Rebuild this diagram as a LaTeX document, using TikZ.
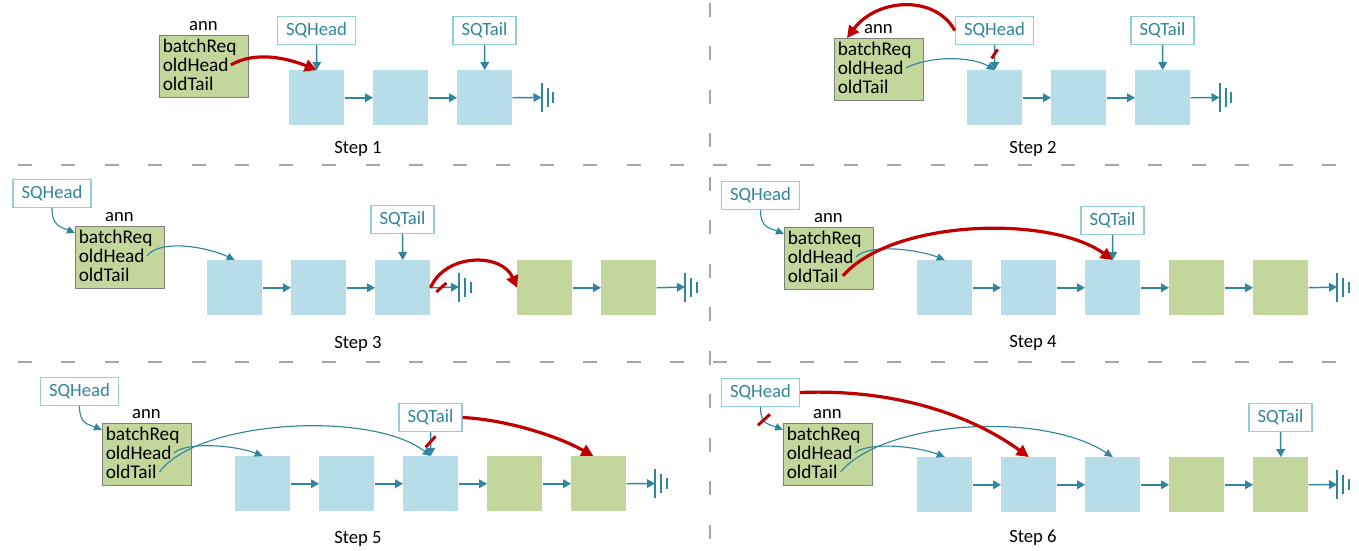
\documentclass[tikz,border=0pt]{standalone}
\usepackage{fontspec}
\setmainfont{Carlito}
\usetikzlibrary{arrows.meta,calc}

\definecolor{qblue}{HTML}{B7DDE8}
\definecolor{qgreen}{HTML}{C3D69B}
\definecolor{ptrteal}{HTML}{31859C}
\definecolor{ptrbox}{HTML}{92CDDC}
\definecolor{cutred}{HTML}{C00000}
\definecolor{sepgray}{HTML}{A6A6A6}
\definecolor{annedge}{HTML}{7F7F7F}

\tikzset{
  qnode/.style={fill=qblue, minimum width=41.25pt, minimum height=41.25pt, inner sep=0pt, anchor=north west},
  gnode/.style={qnode, fill=qgreen},
  ptr/.style={draw=ptrbox, line width=1.1pt, fill=white, text=ptrteal, inner xsep=6.4pt, inner ysep=0pt,
              minimum height=21pt, font=\fontsize{14}{16}\selectfont},
  annbox/.style={draw=annedge, line width=1.1pt, fill=qgreen, minimum width=66.75pt, minimum height=46.5pt,
                 inner sep=0pt, anchor=north west},
  lbl/.style={inner sep=0pt, font=\fontsize{14}{16}\selectfont},
  field/.style={inner sep=0pt, anchor=base west, font=\fontsize{14.5}{16}\selectfont},
  link/.style={draw=ptrteal, line width=1.1pt, -{Triangle[length=6pt,width=6.5pt]}},
  thinlink/.style={draw=ptrteal, line width=0.85pt, -{Triangle[length=6pt,width=5.5pt]}},
  move/.style={draw=cutred, line width=2.4pt, -{Triangle[length=9pt,width=9pt]}},
  cut/.style={draw=cutred, line width=2.2pt},
  divider/.style={draw=sepgray, line width=1pt, dash pattern=on 10.5pt off 22.1pt},
}

% green "ann" record: prefix, left x, top y
\newcommand\annblock[3]{%
  \node[annbox] (#1box) at (#2,#3) {};
  \node[lbl, anchor=base] (#1name) at (#2+44.5,#3-5) {ann};
  \node[field] (#1br) at (#2+3.5,#3+17.5) {batchReq};
  \node[field] (#1oh) at (#2+3.5,#3+36.5) {oldHead};
  \node[field] (#1ot) at (#2+3.5,#3+55.5) {oldTail};
}

% end-of-list mark: name, x, y
\newcommand\earth[3]{%
  \coordinate (#1) at (#2,#3);
  \draw[ptrteal, line width=1.5pt]
    (#1) ++(0,-14.5) -- ++(0,29)
    (#1) ++(6,-9.5) -- ++(0,19)
    (#1) ++(11.5,-5.5) -- ++(0,11);
}

\begin{document}
\begin{tikzpicture}[x=0.75pt, y=-0.75pt]
\useasboundingbox (0,0) rectangle (1359,550);

% panel separators
\draw[divider] (18,165) -- (1359,165);
\draw[divider] (18,362) -- (1359,362);
\draw[divider] (710,3) -- (710,550);

% ---------------- Step 1 ----------------
\annblock{a1}{159}{35}
\node[ptr] (h1) at (316.5,30.5) {SQHead};
\node[qnode] (n11) at (289,70) {};
\node[qnode] (n12) at (373,70) {};
\node[qnode] (n13) at (457,70) {};
\node[ptr] (t1) at (484.5,30.5) {SQTail};
\earth{e1}{541.5}{97.5}
\draw[link] (h1.south) -- (n11.north);
\draw[link] (t1.south) -- (n13.north);
\draw[link] (n11.east) -- (n12.west);
\draw[link] (n12.east) -- (n13.west);
\draw[link] (n13.east) -- (e1);
\draw[move] ([xshift=1.5pt]a1oh.east) .. controls +(25,-14) and +(-30,-12) .. (n11.north);
\node[lbl] (c1) at (358,149) {Step 1};

% ---------------- Step 2 ----------------
\annblock{a2}{834}{38}
\node[ptr] (h2) at (994.5,30.5) {SQHead};
\node[qnode] (n21) at (967,70) {};
\node[qnode] (n22) at (1051,70) {};
\node[qnode] (n23) at (1135,70) {};
\node[ptr] (t2) at (1162.5,30.5) {SQTail};
\earth{e2}{1219.5}{97.5}
\draw[link] (h2.south) -- (n21.north);
\draw[link] (t2.south) -- (n23.north);
\draw[link] (n21.east) -- (n22.west);
\draw[link] (n22.east) -- (n23.west);
\draw[link] (n23.east) -- (e2);
\draw[thinlink] ([xshift=1.5pt]a2oh.east) .. controls +(30,-14) and +(-20,-12) .. (n21.north);
\draw[cut] ($(h2.south)!0.35!(n21.north)$) +(-3,4.5) -- +(3,-4.5);
\draw[move] (h2.west) .. controls +(-20,-36) and +(30,-40) .. ([xshift=9.75pt]a2box.north west);
\node[lbl] (c2) at (1033,149) {Step 2};

% ---------------- Step 3 ----------------
\node[ptr] (h3) at (52,193.5) {SQHead};
\annblock{a3}{75}{226}
\node[qnode] (n31) at (207,260) {};
\node[qnode] (n32) at (291,260) {};
\node[qnode] (n33) at (375,260) {};
\node[gnode] (g31) at (517,260) {};
\node[gnode] (g32) at (601,260) {};
\node[ptr] (t3) at (402.5,219.5) {SQTail};
\earth{e31}{459}{287}
\earth{e32}{685}{287}
\draw[link] (t3.south) -- (n33.north);
\draw[link] (n31.east) -- (n32.west);
\draw[link] (n32.east) -- (n33.west);
\draw[link] (n33.east) -- (e31);
\draw[link] (g31.east) -- (g32.west);
\draw[link] (g32.east) -- (e32);
\draw[thinlink] (h3.south) .. controls +(0,18) and +(-14,-6) .. ([yshift=-5.25pt]a3box.north west);
\draw[thinlink] ([xshift=1.5pt]a3oh.east) .. controls +(15,-18) and +(-25,-12) .. (n31.north);
\draw[move] (n33.east) .. controls +(15,-35) and +(-15,-35) .. (g31.west);
\draw[cut] ($(n33.east)!0.38!(e31)$) +(-5,4.5) -- +(5,-4.5);
\node[lbl] (c3) at (358,343.5) {Step 3};

% ---------------- Step 4 ----------------
\node[ptr] (h4) at (760.5,195.5) {SQHead};
\annblock{a4}{784}{227}
\node[qnode] (n41) at (917,260) {};
\node[qnode] (n42) at (1001,260) {};
\node[qnode] (n43) at (1085,260) {};
\node[gnode] (g41) at (1169,260) {};
\node[gnode] (g42) at (1253,260) {};
\node[ptr] (t4) at (1112.5,220.5) {SQTail};
\earth{e4}{1337}{287}
\draw[link] (t4.south) -- (n43.north);
\draw[link] (n41.east) -- (n42.west);
\draw[link] (n42.east) -- (n43.west);
\draw[link] (n43.east) -- (g41.west);
\draw[link] (g41.east) -- (g42.west);
\draw[link] (g42.east) -- (e4);
\draw[thinlink] (h4.south) .. controls +(0,18) and +(-14,-6) .. ([yshift=-5.25pt]a4box.north west);
\draw[thinlink] ([xshift=1.5pt]a4oh.east) .. controls +(15,-14) and +(-25,-10) .. (n41.north);
\draw[move] ([xshift=3pt]a4ot.east) .. controls +(50,-57) and +(-62,-45) .. (n43.north);
\node[lbl] (c4) at (1033,342.5) {Step 4};

% ---------------- Step 5 ----------------
\node[ptr] (h5) at (79.5,391.5) {SQHead};
\annblock{a5}{102}{423}
\node[qnode] (n51) at (235,456) {};
\node[qnode] (n52) at (319,456) {};
\node[qnode] (n53) at (403,456) {};
\node[gnode] (g51) at (487,456) {};
\node[gnode] (g52) at (571,456) {};
\node[ptr] (t5) at (430.5,417.5) {SQTail};
\earth{e5}{655}{483.5}
\draw[link] (t5.south) -- (n53.north);
\draw[link] (n51.east) -- (n52.west);
\draw[link] (n52.east) -- (n53.west);
\draw[link] (n53.east) -- (g51.west);
\draw[link] (g51.east) -- (g52.west);
\draw[link] (g52.east) -- (e5);
\draw[thinlink] (h5.south) .. controls +(0,18) and +(-14,-6) .. ([yshift=-5.25pt]a5box.north west);
\draw[thinlink] ([xshift=1.5pt]a5oh.east) .. controls +(15,-12) and +(-25,-10) .. (n51.north);
\draw[thinlink] ([xshift=2pt]a5ot.east) .. controls +(39,-52) and +(-60,-46) .. (n53.north);
\draw[cut] ($(t5.south)!0.4!(n53.north)$) +(-5,5.5) -- +(5,-5.5);
\draw[move] (t5.east) .. controls +(40,2) and +(-40,-22) .. ([xshift=-4pt]g52.north);
\node[lbl] (c5) at (358,538.5) {Step 5};

% ---------------- Step 6 ----------------
\node[ptr] (h6) at (760.5,392.5) {SQHead};
\annblock{a6}{783}{423}
\node[qnode] (n61) at (917,457) {};
\node[qnode] (n62) at (1001,457) {};
\node[qnode] (n63) at (1085,457) {};
\node[gnode] (g61) at (1169,457) {};
\node[gnode] (g62) at (1253,457) {};
\node[ptr] (t6) at (1280.5,417.5) {SQTail};
\earth{e6}{1337}{484.5}
\draw[link] (t6.south) -- (g62.north);
\draw[link] (n61.east) -- (n62.west);
\draw[link] (n62.east) -- (n63.west);
\draw[link] (n63.east) -- (g61.west);
\draw[link] (g61.east) -- (g62.west);
\draw[link] (g62.east) -- (e6);
\draw[thinlink] (h6.south) .. controls +(0,18) and +(-14,-6) .. ([yshift=-5.25pt]a6box.north west);
\draw[cut] ([xshift=2.6pt,yshift=-9.4pt]h6.south) +(-6,5.5) -- +(6,-5.5);
\draw[thinlink] ([xshift=1.5pt]a6oh.east) .. controls +(15,-12) and +(-25,-10) .. (n61.north);
\draw[thinlink] ([xshift=2pt]a6ot.east) .. controls +(45,-52) and +(-70,-46) .. (n63.north);
\draw[move] (h6.east) .. controls +(100,-4) and +(-53.5,-39) .. (n62.north);
\node[lbl] (c6) at (1033,537.5) {Step 6};

\end{tikzpicture}
\end{document}
